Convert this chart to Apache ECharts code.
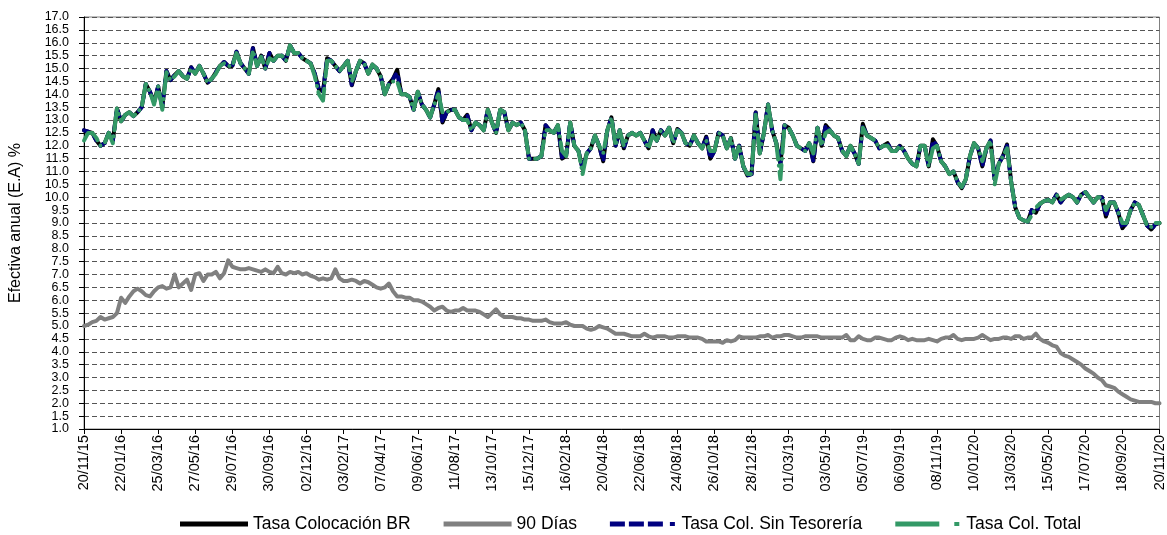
<!DOCTYPE html>
<html>
<head>
<meta charset="utf-8">
<title>Tasas</title>
<script src="https://cdn.jsdelivr.net/npm/echarts@6/dist/echarts.min.js"></script>
<style>
  html, body { margin: 0; padding: 0; background: #fff; }
  #line { width: 1167px; height: 535px; }
</style>
</head>
<body>
<div id="line"></div>
<script>
// semanas desde 20/11/15 hasta 20/11/20
var startDate = Date.UTC(2015, 10, 20);
var nWeeks = 262;

// Tasa Colocación BR
var tasaBR = [
  12.6, 12.55, 12.5, 12.2, 12.0, 12.1, 12.5, 12.2, 13.45, 12.95,
  13.2, 13.3, 13.15, 13.3, 13.5, 14.4, 14.1, 13.7, 14.3, 13.5,
  14.9, 14.55, 14.75, 14.9, 14.7, 14.6, 15.05, 14.8, 15.1, 14.8,
  14.45, 14.6, 14.85, 15.1, 15.25, 15.1, 15.1, 15.65, 15.2, 15.0,
  14.8, 15.8, 15.1, 15.5, 15.0, 15.6, 15.3, 15.5, 15.5, 15.3,
  15.9, 15.6, 15.6, 15.4, 15.3, 15.2, 14.8, 14.2, 14.1, 15.4,
  15.3, 15.1, 14.9, 15.1, 15.3, 14.35, 14.9, 15.3, 15.2, 14.8,
  15.15, 15.0, 14.7, 14.0, 14.4, 14.6, 14.95, 14.0, 14.0, 13.9,
  13.4, 14.1, 13.6, 13.4, 13.1, 13.6, 14.2, 12.9, 13.3, 13.4,
  13.4, 13.1, 13.0, 13.2, 12.6, 12.9, 12.8, 12.6, 13.4, 12.9,
  12.5, 13.4, 13.3, 12.6, 12.9, 12.8, 12.9, 12.6, 11.5, 11.5,
  11.5, 11.6, 12.8, 12.6, 12.5, 12.8, 11.5, 11.6, 12.9, 12.0,
  11.8, 11.1, 11.7, 11.9, 12.4, 12.0, 11.4, 12.6, 13.1, 12.0,
  12.6, 11.9, 12.4, 12.5, 12.4, 12.5, 12.2, 11.9, 12.6, 12.2,
  12.6, 12.4, 12.7, 12.1, 12.65, 12.5, 12.1, 12.0, 12.4, 12.1,
  11.9, 12.35, 11.5, 11.8, 12.5, 12.4, 11.9, 12.3, 11.5, 12.0,
  11.2, 10.85, 10.9, 13.3, 11.7, 12.5, 13.6, 12.6, 12.1, 11.3,
  12.8, 12.7, 12.4, 12.0, 11.9, 11.8, 12.1, 11.4, 12.7, 12.0,
  12.8, 12.6, 12.4, 12.3, 11.8, 11.6, 12.0, 11.7, 11.3, 12.85,
  12.4, 12.3, 12.2, 11.9, 12.0, 12.1, 11.8, 11.8, 12.0, 11.8,
  11.5, 11.3, 11.2, 12.0, 12.0, 11.2, 12.25, 12.0, 11.4, 11.2,
  10.9, 11.0, 10.6, 10.35, 10.7, 11.6, 12.1, 11.9, 11.2, 11.9,
  12.2, 10.7, 11.3, 11.6, 12.05, 10.6, 9.6, 9.2, 9.1, 9.05,
  9.5, 9.4, 9.75, 9.85, 9.9, 9.8, 10.1, 9.8, 10.0, 10.1,
  10.0, 9.8, 10.1, 10.2, 10.0, 9.8, 10.0, 10.0, 9.25, 9.8,
  9.8, 9.4, 8.8, 9.0, 9.5, 9.8, 9.7, 9.3, 8.9, 8.75,
  8.95, 9.0
];

// 90 Días
var dtf90 = [
  5.0, 5.05, 5.15, 5.2, 5.35, 5.25, 5.3, 5.35, 5.5, 6.1,
  5.9, 6.15, 6.35, 6.45, 6.35, 6.2, 6.15, 6.35, 6.5, 6.55,
  6.45, 6.5, 7.0, 6.5, 6.65, 6.8, 6.4, 7.0, 7.05, 6.75,
  7.0, 7.0, 7.1, 6.85, 7.05, 7.55, 7.3, 7.25, 7.2, 7.2,
  7.25, 7.2, 7.15, 7.1, 7.2, 7.1, 7.05, 7.3, 7.05, 7.0,
  7.1, 7.05, 7.1, 7.0, 7.05, 6.95, 6.9, 6.8, 6.85, 6.8,
  6.85, 7.2, 6.85, 6.75, 6.75, 6.8, 6.75, 6.65, 6.75, 6.7,
  6.6, 6.5, 6.45, 6.5, 6.65, 6.35, 6.15, 6.15, 6.1, 6.1,
  6.0, 6.0, 5.95, 5.85, 5.75, 5.6, 5.7, 5.75, 5.6, 5.55,
  5.6, 5.6, 5.7, 5.6, 5.6, 5.6, 5.55, 5.45, 5.35, 5.5,
  5.65, 5.45, 5.35, 5.35, 5.35, 5.3, 5.3, 5.25, 5.25, 5.2,
  5.2, 5.2, 5.25, 5.15, 5.1, 5.1, 5.1, 5.15, 5.05, 5.0,
  5.0, 5.0, 4.9, 4.85, 4.9, 5.0, 4.95, 4.9, 4.8, 4.7,
  4.7, 4.7, 4.65, 4.6, 4.6, 4.6, 4.7, 4.6, 4.55, 4.6,
  4.6, 4.6, 4.55, 4.55, 4.6, 4.6, 4.6, 4.55, 4.55, 4.55,
  4.5, 4.4, 4.4, 4.4, 4.4, 4.35, 4.45, 4.4, 4.45, 4.6,
  4.55, 4.55, 4.55, 4.55, 4.6, 4.6, 4.65, 4.55, 4.6, 4.6,
  4.65, 4.65, 4.6, 4.55, 4.55, 4.6, 4.6, 4.6, 4.6, 4.55,
  4.55, 4.55, 4.55, 4.55, 4.55, 4.65, 4.45, 4.45, 4.6, 4.5,
  4.45, 4.45, 4.55, 4.55, 4.5, 4.45, 4.45, 4.55, 4.6, 4.55,
  4.45, 4.5, 4.45, 4.45, 4.45, 4.5, 4.45, 4.4, 4.5, 4.55,
  4.55, 4.65, 4.5, 4.45, 4.5, 4.5, 4.5, 4.55, 4.65, 4.55,
  4.45, 4.5, 4.5, 4.55, 4.55, 4.5, 4.6, 4.6, 4.5, 4.55,
  4.55, 4.7, 4.5, 4.4, 4.35, 4.25, 4.2, 3.95, 3.85, 3.8,
  3.7, 3.6, 3.5, 3.35, 3.25, 3.15, 3.0, 2.9, 2.7, 2.65,
  2.6, 2.45, 2.35, 2.25, 2.15, 2.1, 2.05, 2.05, 2.05, 2.05,
  2.0, 2.0
];

// Tasa Col. Sin Tesorería
var sinTesoreria = [
  12.6, 12.55, 12.5, 12.2, 12.0, 12.1, 12.5, 12.2, 13.45, 12.95,
  13.2, 13.3, 13.15, 13.3, 13.5, 14.4, 14.1, 13.7, 14.3, 13.5,
  14.9, 14.55, 14.75, 14.9, 14.7, 14.6, 15.05, 14.8, 15.1, 14.8,
  14.45, 14.6, 14.85, 15.1, 15.25, 15.1, 15.1, 15.65, 15.2, 15.0,
  14.8, 15.8, 15.1, 15.5, 15.0, 15.6, 15.3, 15.5, 15.5, 15.3,
  15.9, 15.6, 15.6, 15.4, 15.3, 15.2, 14.8, 14.2, 14.1, 15.4,
  15.3, 15.1, 14.9, 15.1, 15.3, 14.35, 14.9, 15.3, 15.2, 14.8,
  15.15, 15.0, 14.7, 14.0, 14.4, 14.6, 14.85, 14.0, 14.0, 13.9,
  13.4, 14.1, 13.6, 13.4, 13.1, 13.6, 14.2, 12.9, 13.3, 13.4,
  13.4, 13.1, 13.0, 13.2, 12.6, 12.9, 12.8, 12.6, 13.4, 12.9,
  12.5, 13.4, 13.3, 12.6, 12.9, 12.8, 12.9, 12.6, 11.5, 11.5,
  11.5, 11.6, 12.8, 12.6, 12.5, 12.8, 11.55, 11.6, 12.9, 12.0,
  11.8, 11.1, 11.7, 11.9, 12.4, 12.0, 11.4, 12.6, 13.1, 12.0,
  12.6, 11.9, 12.4, 12.5, 12.4, 12.5, 12.2, 11.9, 12.6, 12.2,
  12.6, 12.4, 12.7, 12.1, 12.65, 12.5, 12.1, 12.0, 12.4, 12.1,
  11.9, 12.35, 11.5, 11.8, 12.5, 12.4, 11.9, 12.3, 11.5, 12.0,
  11.2, 10.85, 10.9, 13.3, 11.7, 12.5, 13.6, 12.6, 12.1, 11.3,
  12.8, 12.7, 12.4, 12.0, 11.9, 11.8, 12.1, 11.4, 12.7, 12.0,
  12.8, 12.6, 12.4, 12.3, 11.8, 11.6, 12.0, 11.7, 11.3, 12.8,
  12.4, 12.3, 12.2, 11.9, 12.0, 12.1, 11.8, 11.8, 12.0, 11.8,
  11.5, 11.3, 11.2, 12.0, 12.0, 11.2, 12.2, 12.0, 11.4, 11.2,
  10.9, 11.0, 10.6, 10.35, 10.7, 11.6, 12.1, 11.9, 11.2, 11.9,
  12.2, 10.7, 11.3, 11.6, 12.0, 10.6, 9.6, 9.2, 9.1, 9.05,
  9.5, 9.4, 9.75, 9.85, 9.9, 9.8, 10.1, 9.8, 10.0, 10.1,
  10.0, 9.8, 10.1, 10.2, 10.0, 9.8, 10.0, 10.0, 9.25, 9.8,
  9.8, 9.4, 8.8, 9.0, 9.5, 9.8, 9.7, 9.3, 8.9, 8.75,
  8.95, 9.0
];

// Tasa Col. Total
var colTotal = [
  12.2, 12.5, 12.5, 12.3, 12.0, 12.1, 12.5, 12.1, 13.45, 12.95,
  13.2, 13.3, 13.15, 13.3, 13.5, 14.4, 14.1, 13.6, 14.3, 13.4,
  14.85, 14.55, 14.7, 14.9, 14.7, 14.6, 15.0, 14.8, 15.1, 14.8,
  14.45, 14.6, 14.8, 15.1, 15.2, 15.1, 15.1, 15.6, 15.2, 15.0,
  14.8, 15.7, 15.1, 15.45, 15.0, 15.4, 15.3, 15.5, 15.5, 15.3,
  15.9, 15.6, 15.6, 15.4, 15.3, 15.2, 14.7, 14.0, 13.75, 15.3,
  15.3, 15.1, 14.9, 15.1, 15.3, 14.5, 14.9, 15.3, 15.2, 14.8,
  15.15, 15.0, 14.7, 14.0, 14.4, 14.5, 14.5, 14.0, 14.0, 13.9,
  13.4, 14.1, 13.6, 13.4, 13.1, 13.6, 14.0, 13.3, 13.3, 13.4,
  13.4, 13.1, 13.0, 13.0, 12.6, 12.9, 12.8, 12.6, 13.4, 12.9,
  12.5, 13.4, 13.3, 12.6, 12.9, 12.8, 12.9, 12.6, 11.5, 11.5,
  11.5, 11.6, 12.6, 12.6, 12.5, 12.8, 11.8, 11.6, 12.9, 12.0,
  11.8, 10.9, 11.7, 11.9, 12.4, 12.0, 11.7, 12.6, 13.1, 12.0,
  12.6, 12.0, 12.4, 12.5, 12.4, 12.5, 12.2, 11.9, 12.4, 12.2,
  12.6, 12.4, 12.7, 12.1, 12.6, 12.5, 12.1, 12.0, 12.4, 12.1,
  11.9, 12.2, 11.8, 11.8, 12.5, 12.4, 11.9, 12.3, 11.5, 12.0,
  11.2, 10.9, 10.9, 13.2, 11.7, 12.5, 13.6, 12.6, 12.1, 10.7,
  12.8, 12.7, 12.4, 12.0, 11.9, 11.8, 12.1, 11.7, 12.7, 12.0,
  12.5, 12.6, 12.4, 12.3, 11.8, 11.6, 12.0, 11.7, 11.3, 12.7,
  12.4, 12.3, 12.2, 11.9, 12.0, 12.0, 11.8, 11.8, 12.0, 11.8,
  11.5, 11.3, 11.2, 12.0, 12.0, 11.2, 11.9, 12.0, 11.4, 11.2,
  10.9, 11.0, 10.6, 10.4, 10.7, 11.6, 12.1, 11.9, 11.4, 11.9,
  12.2, 10.5, 11.3, 11.6, 11.9, 10.6, 9.6, 9.2, 9.1, 9.05,
  9.3, 9.6, 9.75, 9.85, 9.9, 9.8, 10.1, 9.9, 10.0, 10.1,
  10.0, 9.8, 10.1, 10.2, 10.0, 9.8, 10.0, 10.0, 9.5, 9.8,
  9.8, 9.4, 9.0, 9.0, 9.5, 9.8, 9.7, 9.3, 8.9, 8.85,
  9.0, 9.0
];

var fechas = [];
for (var i = 0; i < nWeeks; i++) {
  var d = new Date(startDate + i * 7 * 86400000);
  var dd = ('0' + d.getUTCDate()).slice(-2);
  var mm = ('0' + (d.getUTCMonth() + 1)).slice(-2);
  var yy = ('' + d.getUTCFullYear()).slice(-2);
  fechas.push(dd + '/' + mm + '/' + yy);
}

var font = 'Liberation Sans, Arial, sans-serif';
var myChart = echarts.init(document.getElementById('line'));

// iconos de la leyenda (línea continua, guiones, guion-punto)
var iconSolid = 'path://M0,0h68v5h-68z';
var iconDash = 'path://M0,0h15v5h-15zM19,0h15v5h-15zM38,0h15v5h-15zM60,0.5h5v4h-5z';
var iconDashDot = 'path://M0,0h44v5h-44zM59,0.5h5v4h-5z';

function serie(name, data, color, type, z) {
  return {
    name: name,
    type: 'line',
    data: data,
    symbol: 'none',
    z: z,
    lineStyle: { color: color, width: 4, type: type, cap: 'round', join: 'round' },
    itemStyle: { color: color },
    emphasis: { disabled: true }
  };
}

myChart.setOption({
  animation: false,
  grid: {
    left: 77, right: 7, top: 17, bottom: 106,
    show: true, borderColor: '#808080', borderWidth: 1
  },
  legend: {
    left: 180,
    top: 515,
    padding: 0,
    itemWidth: 68,
    itemHeight: 5,
    itemGap: 33,
    textStyle: { color: '#000', fontSize: 17.5, fontFamily: font },
    data: [
      { name: 'Tasa Colocación BR', icon: iconSolid },
      { name: '90 Días', icon: iconSolid },
      { name: 'Tasa Col. Sin Tesorería', icon: iconDash },
      { name: 'Tasa Col. Total', icon: iconDashDot }
    ]
  },
  xAxis: {
    type: 'category',
    data: fechas,
    boundaryGap: false,
    axisLine: { lineStyle: { color: '#000', width: 1 } },
    axisTick: { show: true, interval: 8, length: 5, lineStyle: { color: '#000' } },
    axisLabel: {
      interval: 8, rotate: 90, margin: 6,
      color: '#000', fontSize: 14.5, fontFamily: font
    },
    splitLine: { show: false }
  },
  yAxis: {
    type: 'value',
    min: 1, max: 17, interval: 0.5,
    name: 'Efectiva anual (E.A) %',
    nameLocation: 'middle',
    nameGap: 60,
    nameRotate: 90,
    nameTextStyle: { color: '#000', fontSize: 16, fontFamily: font },
    axisLine: { show: true, lineStyle: { color: '#000', width: 1 } },
    axisTick: { show: true, length: 5, lineStyle: { color: '#000' } },
    axisLabel: {
      color: '#000', fontSize: 12.5, fontFamily: font, margin: 15,
      formatter: function (v) { return v.toFixed(1); }
    },
    splitLine: { lineStyle: { color: '#555', type: [5, 3], width: 1 } }
  },
  series: [
    serie('Tasa Colocación BR', tasaBR, '#000000', 'solid', 2),
    serie('90 Días', dtf90, '#808080', 'solid', 3),
    serie('Tasa Col. Sin Tesorería', sinTesoreria, '#000080', [5, 7], 4),
    serie('Tasa Col. Total', colTotal, '#339966', [22, 6, 0.1, 6], 5)
  ]
});
</script>
</body>
</html>
